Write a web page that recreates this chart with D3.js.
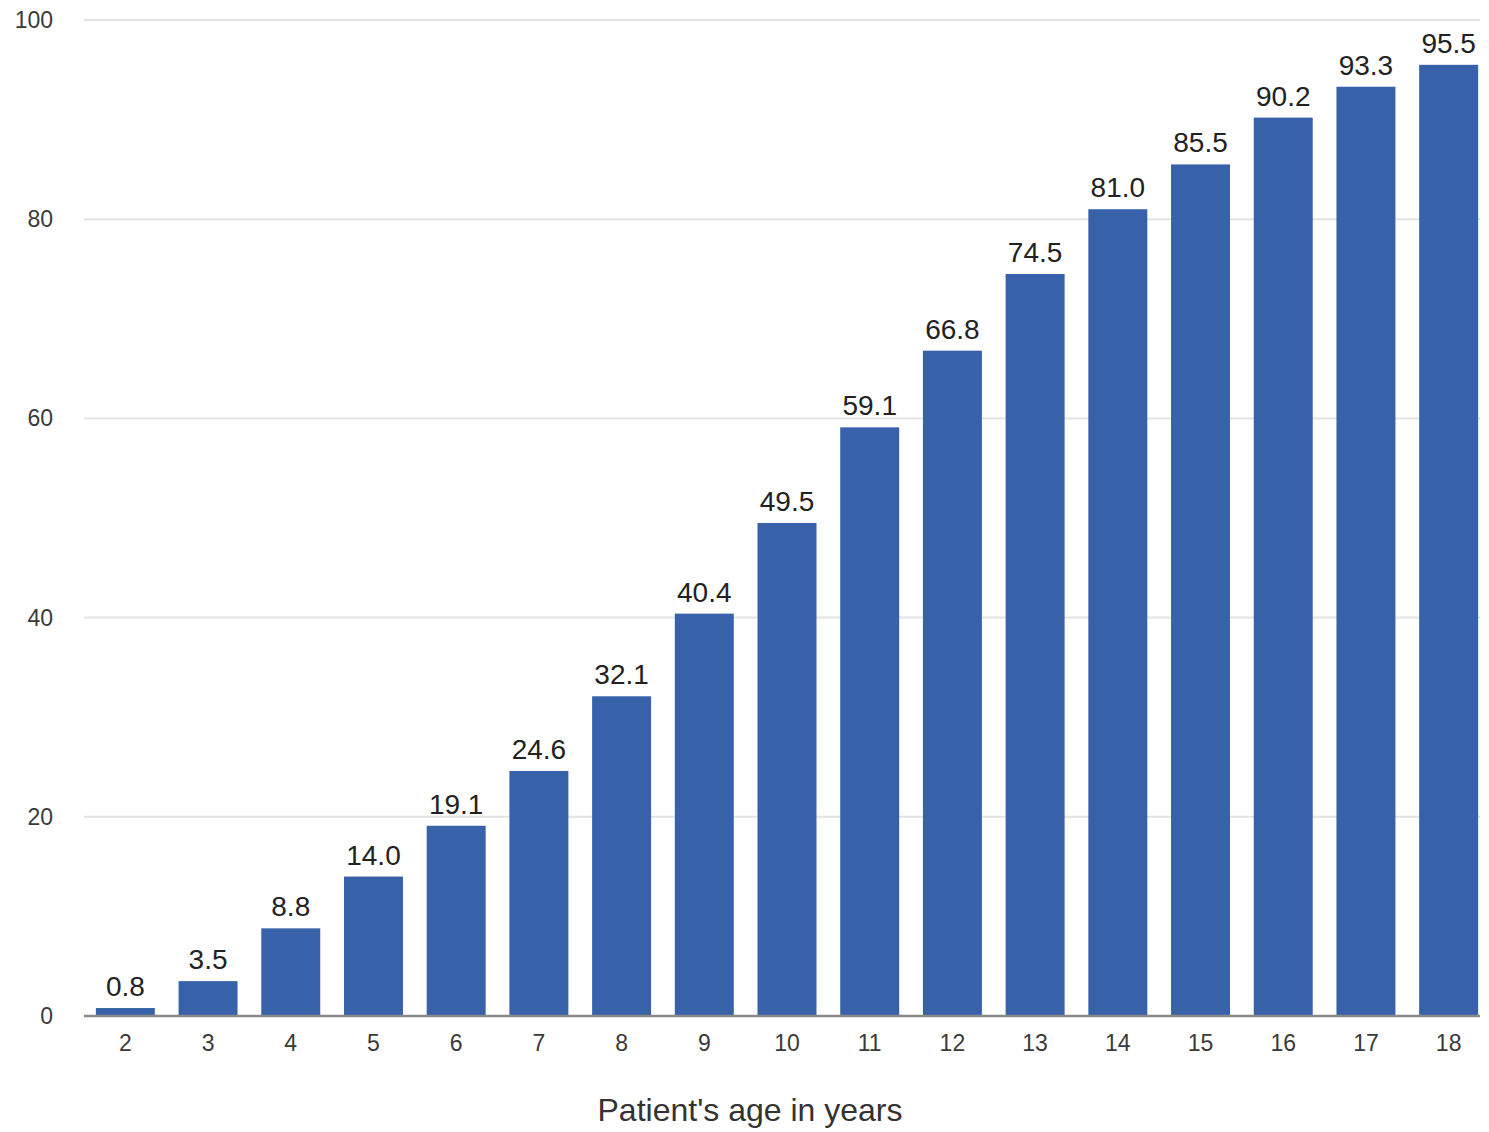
<!DOCTYPE html>
<html><head><meta charset="utf-8">
<script src="https://cdn.jsdelivr.net/npm/d3@7"></script>
<style>body{margin:0;background:#fff}svg{display:block}</style>
</head><body>
<svg id="c" width="1489" height="1132"></svg>
<script>
const ages = ["2","3","4","5","6","7","8","9","10","11","12","13","14","15","16","17","18"];
const values = [0.8,3.5,8.8,14.0,19.1,24.6,32.1,40.4,49.5,59.1,66.8,74.5,81.0,85.5,90.2,93.3,95.5];
const yTicks = [0,20,40,60,80,100];
const xTitle = "Patient's age in years";

const svg = d3.select("#c");
const font = "Liberation Sans, Arial, Helvetica, sans-serif";
const x = d3.scaleBand().domain(ages).range([84,1490]).paddingInner(0.287).paddingOuter(0.1435);
const y = d3.scaleLinear().domain([0,100]).range([1016,20]);

// gridlines
svg.append("g").selectAll("line").data(yTicks.filter(d=>d>0)).join("line")
  .attr("x1",84).attr("x2",1480).attr("y1",d=>y(d)).attr("y2",d=>y(d))
  .attr("stroke","#e3e3e3").attr("stroke-width",2);

// y labels
svg.append("g").selectAll("text").data(yTicks).join("text")
  .attr("x",53).attr("y",d=>y(d)).attr("dy","0.35em").attr("text-anchor","end")
  .attr("font-family",font).attr("font-size",23).attr("fill","#3a3a3a").text(d=>d);

// bars
svg.append("g").selectAll("rect").data(values).join("rect")
  .attr("x",(d,i)=>x(ages[i])).attr("width",x.bandwidth())
  .attr("y",d=>y(d)).attr("height",d=>y(0)-y(d)).attr("fill","#3762aa");

// value labels
svg.append("g").selectAll("text").data(values).join("text")
  .attr("x",(d,i)=>x(ages[i])+x.bandwidth()/2).attr("y",d=>y(d)-12)
  .attr("text-anchor","middle").attr("font-family",font).attr("font-size",28).attr("fill","#222")
  .text(d=>d.toFixed(1));

// baseline
svg.append("line").attr("x1",84).attr("x2",1480).attr("y1",y(0)).attr("y2",y(0))
  .attr("stroke","#8a8a8a").attr("stroke-width",2.5);

// x labels
svg.append("g").selectAll("text").data(ages).join("text")
  .attr("x",d=>x(d)+x.bandwidth()/2).attr("y",1043).attr("dy","0.35em")
  .attr("text-anchor","middle").attr("font-family",font).attr("font-size",23).attr("fill","#3a3a3a").text(d=>d);

// x title
svg.append("text").attr("x",750).attr("y",1110).attr("dy","0.35em").attr("text-anchor","middle")
  .attr("font-family",font).attr("font-size",32).attr("fill","#333").text(xTitle);
</script>
</body></html>
